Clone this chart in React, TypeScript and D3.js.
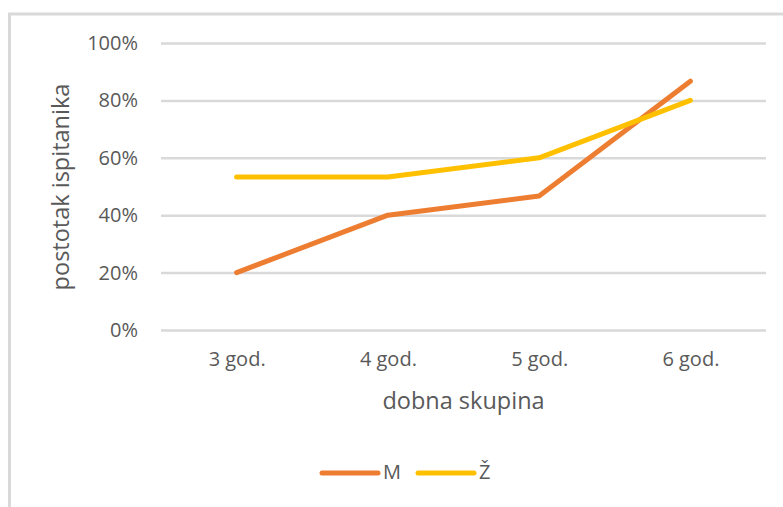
import React, { useEffect, useRef } from 'react';
import * as d3 from 'd3';

const categories = ['3 god.', '4 god.', '5 god.', '6 god.'];
const seriesNames = ['M', 'Ž'];
const valuesM = [0.2, 0.4, 0.4667, 0.8667];
const valuesZ = [0.5333, 0.5333, 0.6, 0.8];
const yTicks = [0, 0.2, 0.4, 0.6, 0.8, 1.0];
const colors = ['#ED7D31', '#FFC000'];

const width = 783;
const height = 507;
const plot = { left: 161, right: 766, top: 43, bottom: 330 };
const font = '"Open Sans", sans-serif';

const App = () => {
    const ref = useRef<SVGSVGElement>(null);

    useEffect(() => {
        const svg = d3.select(ref.current);
        svg.selectAll('*').remove();

        const x = d3.scalePoint<string>()
            .domain(categories)
            .range([plot.left, plot.right])
            .padding(0.5);

        const y = d3.scaleLinear()
            .domain([0, 1])
            .range([plot.bottom, plot.top]);

        // frame
        svg.append('rect')
            .attr('x', 9.5).attr('y', 14)
            .attr('width', 800).attr('height', 520)
            .attr('fill', 'white')
            .attr('stroke', '#D9D9D9')
            .attr('stroke-width', 3);

        // y axis with gridlines
        const yAxis = d3.axisLeft(y)
            .tickValues(yTicks)
            .tickSize(-(plot.right - plot.left))
            .tickPadding(23)
            .tickFormat(d => d3.format('.0%')(d as number));

        const gy = svg.append('g')
            .attr('transform', `translate(${plot.left},0)`)
            .call(yAxis);
        gy.select('.domain').remove();
        gy.selectAll('.tick line')
            .attr('stroke', '#D9D9D9')
            .attr('stroke-width', 2.5);
        gy.selectAll('.tick text')
            .attr('fill', '#595959')
            .style('font-family', font)
            .style('font-size', '20px');

        // x axis labels
        const xAxis = d3.axisBottom(x).tickSize(0).tickPadding(22);
        const gx = svg.append('g')
            .attr('transform', `translate(0,${plot.bottom})`)
            .call(xAxis);
        gx.select('.domain').remove();
        gx.selectAll('.tick text')
            .attr('fill', '#595959')
            .style('font-family', font)
            .style('font-size', '20px');

        // lines
        const line = d3.line<number>()
            .x((d, i) => x(categories[i]) as number)
            .y(d => y(d));

        [valuesM, valuesZ].forEach((vals, i) => {
            svg.append('path')
                .datum(vals)
                .attr('d', line)
                .attr('fill', 'none')
                .attr('stroke', colors[i])
                .attr('stroke-width', 5)
                .attr('stroke-linejoin', 'round')
                .attr('stroke-linecap', 'round');
        });

        // axis titles
        svg.append('text')
            .attr('x', (plot.left + plot.right) / 2)
            .attr('y', 403)
            .attr('text-anchor', 'middle')
            .attr('dominant-baseline', 'middle')
            .attr('fill', '#595959')
            .style('font-family', font)
            .style('font-size', '23.5px')
            .text('dobna skupina');

        svg.append('text')
            .attr('transform', 'translate(63,187) rotate(-90)')
            .attr('text-anchor', 'middle')
            .attr('dominant-baseline', 'middle')
            .attr('fill', '#595959')
            .style('font-family', font)
            .style('font-size', '23.5px')
            .text('postotak ispitanika');

        // legend
        const legendX = [322, 418];
        const legend = svg.append('g');
        seriesNames.forEach((name, i) => {
            legend.append('line')
                .attr('x1', legendX[i]).attr('x2', legendX[i] + 56)
                .attr('y1', 473).attr('y2', 473)
                .attr('stroke', colors[i])
                .attr('stroke-width', 5)
                .attr('stroke-linecap', 'round');
            legend.append('text')
                .attr('x', legendX[i] + 61)
                .attr('y', 474)
                .attr('dominant-baseline', 'middle')
                .attr('fill', '#595959')
                .style('font-family', font)
                .style('font-size', '20px')
                .text(name);
        });
    }, []);

    return (
        <svg ref={ref} width={width} height={height}
            style={{ position: 'absolute', left: 0, top: 0, background: 'white' }} />
    );
};

export default App;
